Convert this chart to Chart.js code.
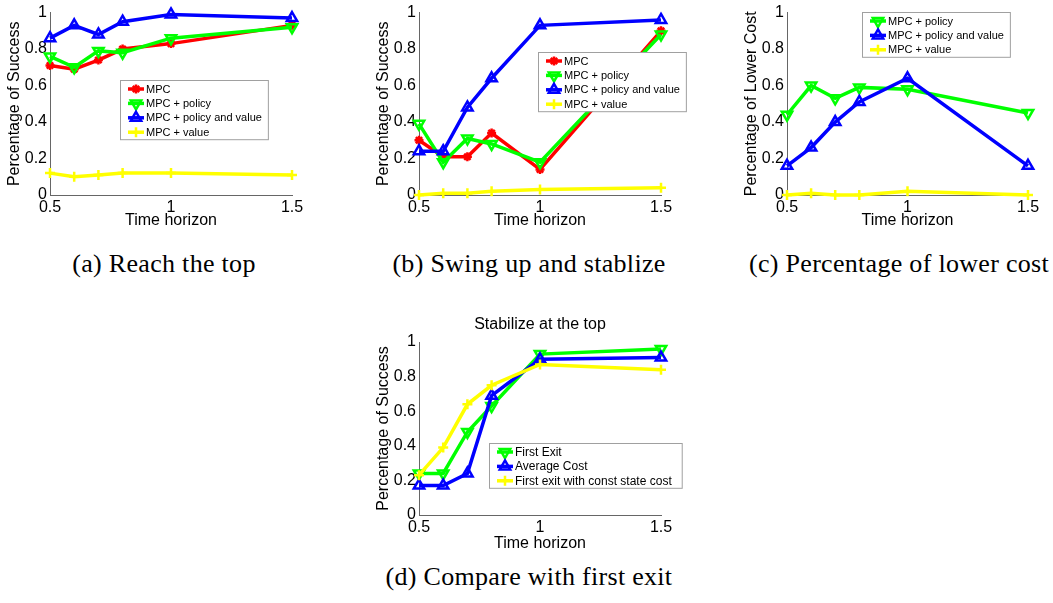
<!DOCTYPE html>
<html>
<head>
<meta charset="utf-8">
<script src="https://cdn.jsdelivr.net/npm/chart.js@4.4.0/dist/chart.umd.min.js"></script>
<style>
body { margin: 0; background: #fff; width: 1053px; height: 603px; overflow: hidden; position: relative; }
canvas { position: absolute; }
.caption { position: absolute; width: 420px; text-align: center; font-family: "Liberation Serif", "Times New Roman", serif;
  font-size: 26px; letter-spacing: 0.3px; line-height: 28px; color: #000; white-space: nowrap; }
</style>
</head>
<body>
<canvas id="chartA" width="330" height="230" style="left:0px;top:0px"></canvas>
<canvas id="chartB" width="330" height="230" style="left:369px;top:0px"></canvas>
<canvas id="chartC" width="316" height="230" style="left:737px;top:0px"></canvas>
<canvas id="chartD" width="330" height="253" style="left:369px;top:300px"></canvas>

<div class="caption" style="left:-46px;top:250px">(a) Reach the top</div>
<div class="caption" style="left:319px;top:250px">(b) Swing up and stablize</div>
<div class="caption" style="left:689px;top:250px">(c) Percentage of lower cost</div>
<div class="caption" style="left:319px;top:563px">(d) Compare with first exit</div>

<script>
// time horizon values (x axis)
const horizon = [0.5, 0.6, 0.7, 0.8, 1.0, 1.5];

// (a) reach the top
const reachMpc = [0.71, 0.69, 0.74, 0.80, 0.83, 0.93];
const reachPolicy = [0.76, 0.70, 0.79, 0.78, 0.86, 0.92];
const reachPolicyValue = [0.86, 0.93, 0.88, 0.95, 0.99, 0.97];
const reachValue = [0.12, 0.10, 0.11, 0.12, 0.12, 0.11];

// (b) swing up and stablize
const swingMpc = [0.30, 0.21, 0.21, 0.34, 0.14, 0.90];
const swingPolicy = [0.39, 0.18, 0.31, 0.28, 0.18, 0.88];
const swingPolicyValue = [0.24, 0.24, 0.48, 0.64, 0.93, 0.96];
const swingValue = [0.00, 0.01, 0.01, 0.02, 0.03, 0.04];

// (c) percentage of lower cost
const costPolicy = [0.44, 0.60, 0.53, 0.59, 0.58, 0.45];
const costPolicyValue = [0.16, 0.26, 0.40, 0.51, 0.64, 0.16];
const costValue = [0.00, 0.01, 0.00, 0.00, 0.02, 0.00];

// (d) compare with first exit
const firstExit = [0.24, 0.24, 0.48, 0.63, 0.93, 0.96];
const averageCost = [0.17, 0.17, 0.24, 0.69, 0.90, 0.91];
const constStateCost = [0.23, 0.39, 0.64, 0.75, 0.87, 0.84];

const xTicks = [0.5, 1, 1.5];
const yTicks = [0, 0.2, 0.4, 0.6, 0.8, 1];

const sans = '"Liberation Sans", Arial, sans-serif';

// line + marker look for each method
const RED = { color: 'rgb(255,0,0)', marker: 'star', rotation: 0, radius: 4.5 };
const GREEN = { color: 'rgb(0,255,0)', marker: 'triangle', rotation: 180, radius: 6 };
const BLUE = { color: 'rgb(0,0,255)', marker: 'triangle', rotation: 0, radius: 6 };
const YELLOW = { color: 'rgb(255,255,0)', marker: 'cross', rotation: 0, radius: 5 };

// legend box drawn inside the plot, like matlab does (+ plot title centred on the axes)
const insideLegend = {
    id: 'insideLegend',
    afterDraw(chart, args, opts) {
        const ctx = chart.ctx;
        const sets = chart.data.datasets;
        ctx.save();
        if (opts.title) {
            const area = chart.chartArea;
            ctx.font = '16px ' + sans;
            ctx.fillStyle = '#000';
            ctx.textAlign = 'center';
            ctx.textBaseline = 'middle';
            ctx.fillText(opts.title, (area.left + area.right) / 2, opts.titleY);
        }
        ctx.font = opts.fontSize + 'px ' + sans;
        let textW = 0;
        sets.forEach(d => { textW = Math.max(textW, ctx.measureText(d.label).width); });
        const rowH = 14.4;
        const w = 26 + textW + opts.padRight;
        const h = 9 + (sets.length - 1) * rowH + 7;
        ctx.fillStyle = '#fff';
        ctx.fillRect(opts.x, opts.y, w, h);
        ctx.strokeStyle = '#a0a0a0';
        ctx.lineWidth = 1;
        ctx.strokeRect(opts.x + 0.5, opts.y + 0.5, w, h);
        sets.forEach((d, i) => {
            const cy = opts.y + 9 + i * rowH;
            ctx.strokeStyle = d.borderColor;
            ctx.lineWidth = 3.5;
            ctx.beginPath();
            ctx.moveTo(opts.x + 8, cy);
            ctx.lineTo(opts.x + 24, cy);
            ctx.stroke();
            if (Chart.helpers && Chart.helpers.drawPoint) {
                ctx.fillStyle = d.pointBackgroundColor;
                ctx.lineWidth = d.pointBorderWidth;
                Chart.helpers.drawPoint(ctx, {
                    pointStyle: d.pointStyle, rotation: d.pointRotation,
                    radius: d.pointRadius, borderWidth: d.pointBorderWidth
                }, opts.x + 16, cy);
            }
            ctx.fillStyle = '#000';
            ctx.textBaseline = 'middle';
            ctx.textAlign = 'left';
            ctx.fillText(d.label, opts.x + 26, cy + 0.5);
        });
        ctx.restore();
    }
};

function makeChart(id, series, yTitle, legend, cfg) {
    const ctx = document.getElementById(id);

    const datasets = series.map((s, i) => ({
        label: s.label,
        data: horizon.map((h, k) => ({ x: h, y: s.values[k] })),
        borderColor: s.look.color,
        backgroundColor: s.look.color,
        borderWidth: 3.5,
        pointStyle: s.look.marker,
        pointRotation: s.look.rotation,
        pointRadius: s.look.radius,
        pointBorderWidth: 2.5,
        pointBorderColor: s.look.color,
        pointBackgroundColor: 'rgba(255,255,255,0)',
        tension: 0,
        clip: false,
        order: series.length - i
    }));

    const tickFont = { family: sans, size: 16 };
    const fmt = v => String(Math.round(v * 10) / 10);

    new Chart(ctx, {
        type: 'line',
        data: { datasets: datasets },
        plugins: [insideLegend],
        options: {
            responsive: false,
            animation: false,
            layout: { padding: { left: 0, top: cfg.top, right: cfg.right, bottom: 0 } },
            plugins: {
                legend: { display: false },
                tooltip: { enabled: false },
                insideLegend: legend
            },
            scales: {
                x: {
                    type: 'linear', min: 0.5, max: 1.5,
                    afterBuildTicks: s => { s.ticks = xTicks.map(v => ({ value: v })); },
                    ticks: { color: '#000', font: tickFont, padding: 3, maxRotation: 0, autoSkip: false, callback: fmt },
                    grid: { display: false, drawTicks: false },
                    border: { display: true, color: '#666', width: 1 },
                    title: { display: true, text: 'Time horizon', color: '#000', font: tickFont, padding: 0 },
                    afterFit: s => { s.height = cfg.xh; }
                },
                y: {
                    min: 0, max: 1,
                    afterBuildTicks: s => { s.ticks = yTicks.map(v => ({ value: v })); },
                    ticks: { color: '#000', font: tickFont, padding: 3, callback: fmt },
                    grid: { display: false, drawTicks: false },
                    border: { display: true, color: '#666', width: 1 },
                    title: { display: true, text: yTitle, color: '#000', font: tickFont, padding: { top: 5.4, bottom: 0 } },
                    afterFit: s => { s.width = 50; }
                }
            }
        }
    });
}

makeChart('chartA', [
    { label: 'MPC', values: reachMpc, look: RED },
    { label: 'MPC + policy', values: reachPolicy, look: GREEN },
    { label: 'MPC + policy and value', values: reachPolicyValue, look: BLUE },
    { label: 'MPC + value', values: reachValue, look: YELLOW }
], 'Percentage of Success', { x: 120, y: 80, fontSize: 11, padRight: 6 }, { top: 12, right: 38, xh: 35 });

makeChart('chartB', [
    { label: 'MPC', values: swingMpc, look: RED },
    { label: 'MPC + policy', values: swingPolicy, look: GREEN },
    { label: 'MPC + policy and value', values: swingPolicyValue, look: BLUE },
    { label: 'MPC + value', values: swingValue, look: YELLOW }
], 'Percentage of Success', { x: 169, y: 52, fontSize: 11, padRight: 6 }, { top: 12, right: 38, xh: 35 });

makeChart('chartC', [
    { label: 'MPC + policy', values: costPolicy, look: GREEN },
    { label: 'MPC + policy and value', values: costPolicyValue, look: BLUE },
    { label: 'MPC + value', values: costValue, look: YELLOW }
], 'Percentage of Lower Cost', { x: 125, y: 12, fontSize: 11, padRight: 6 }, { top: 12, right: 25, xh: 35 });

makeChart('chartD', [
    { label: 'First Exit', values: firstExit, look: GREEN },
    { label: 'Average Cost', values: averageCost, look: BLUE },
    { label: 'First exit with const state cost', values: constStateCost, look: YELLOW }
], 'Percentage of Success', { x: 120, y: 143, fontSize: 12, padRight: 10, title: 'Stabilize at the top', titleY: 25 },
   { top: 42, right: 38, xh: 38 });
</script>
</body>
</html>
